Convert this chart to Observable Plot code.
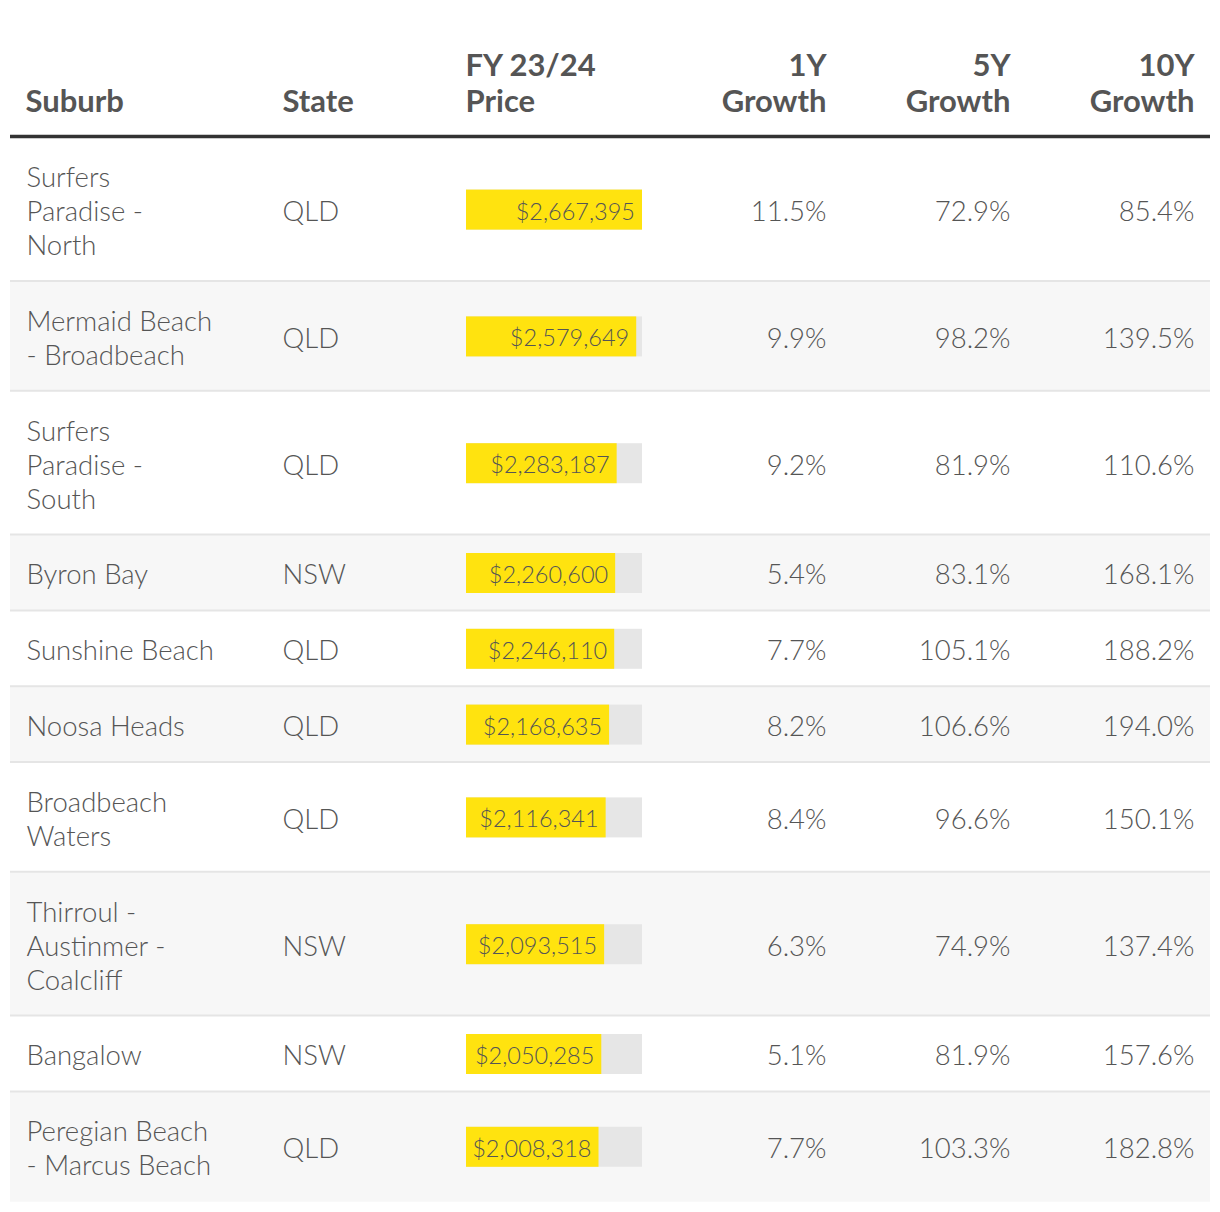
<!DOCTYPE html>
<html><head><meta charset="utf-8">
<script src="https://cdn.jsdelivr.net/npm/d3@7"></script>
<script src="https://cdn.jsdelivr.net/npm/@observablehq/plot@0.6"></script>
<style>body{margin:0;background:#fff;} svg{display:block}</style>
</head><body><div id="chart"></div>
<script>
// ---- data ----
const headers = ["Suburb", "State", "FY 23/24\nPrice", "1Y\nGrowth", "5Y\nGrowth", "10Y\nGrowth"];
const suburbs = [
  "Surfers\nParadise -\nNorth",
  "Mermaid Beach\n- Broadbeach",
  "Surfers\nParadise -\nSouth",
  "Byron Bay",
  "Sunshine Beach",
  "Noosa Heads",
  "Broadbeach\nWaters",
  "Thirroul -\nAustinmer -\nCoalcliff",
  "Bangalow",
  "Peregian Beach\n- Marcus Beach"
];
const states = ["QLD", "QLD", "QLD", "NSW", "QLD", "QLD", "QLD", "NSW", "NSW", "QLD"];
const prices = [2667395, 2579649, 2283187, 2260600, 2246110, 2168635, 2116341, 2093515, 2050285, 2008318];
const growth1Y = [11.5, 9.9, 9.2, 5.4, 7.7, 8.2, 8.4, 6.3, 5.1, 7.7];
const growth5Y = [72.9, 98.2, 81.9, 83.1, 105.1, 106.6, 96.6, 74.9, 81.9, 103.3];
const growth10Y = [85.4, 139.5, 110.6, 168.1, 188.2, 194.0, 150.1, 137.4, 157.6, 182.8];

// ---- layout ----
const W = 1220, H = 1212;
const LINE = 34, PAD = 41.8, TOP = 137.7;
const TEXT = "#555";
let t = TOP;
const rows = suburbs.map((s, i) => {
  const n = s.split("\n").length;
  const h = n * LINE + PAD;
  const r = {i, n, suburb: s, state: states[i], price: prices[i],
    g1: growth1Y[i], g5: growth5Y[i], g10: growth10Y[i],
    top: t, bottom: t + h, mid: t + (h - 2) / 2 + 1};
  t += h;
  return r;
});
const maxPrice = d3.max(prices);
const fmtPrice = d => "$" + d3.format(",")(d);
const fmtPct = d => d.toFixed(1) + "%";

const leftCols = [15, 272, 455];      // offsets from frame left (Suburb, State, Price)
const rightCols = [-384, -200, -16];  // offsets from frame right (1Y, 5Y, 10Y)

const bodyText = {fontSize: 27.5, fontWeight: 300, fill: TEXT, lineHeight: 34 / 27.5, lineAnchor: "middle"};
const headText = {fontSize: 31, fontWeight: 700, fill: TEXT, lineHeight: 35.8 / 31, lineAnchor: "bottom"};
const HEAD_Y = 111.7;

const chart = Plot.plot({
  width: W, height: H,
  marginTop: 0, marginBottom: 0, marginLeft: 10, marginRight: 10,
  x: {domain: [0, maxPrice], range: [466, 642], axis: null},
  y: {type: "identity", axis: null},
  style: {fontFamily: "Lato, sans-serif", background: "#fff", color: TEXT},
  marks: [
    // zebra backgrounds
    Plot.rect(rows.filter(d => d.i % 2 === 1), {y1: "top", y2: "bottom", fill: "#f7f7f7"}),
    // separators
    Plot.ruleY(rows.slice(0, -1), {y: d => d.bottom - 1, stroke: "#e5e5e5", strokeWidth: 2}),
    // header rule
    Plot.ruleY([136], {stroke: "#333", strokeWidth: 3.4}),
    // headers
    ...leftCols.map((dx, k) => Plot.text([headers[k]], {y: () => HEAD_Y, text: d => d, frameAnchor: "left", dx, ...headText})),
    ...rightCols.map((dx, k) => Plot.text([headers[k + 3]], {y: () => HEAD_Y, text: d => d, frameAnchor: "right", dx, ...headText})),
    // body: suburb & state
    Plot.text(rows, {y: "mid", text: "suburb", frameAnchor: "left", dx: leftCols[0] + 1, ...bodyText}),
    Plot.text(rows, {y: "mid", text: "state", frameAnchor: "left", dx: leftCols[1], ...bodyText}),
    // price bars
    Plot.rect(rows, {x1: 0, x2: maxPrice, y1: d => d.mid - 20, y2: d => d.mid + 20, fill: "#e6e6e6"}),
    Plot.rect(rows, {x1: 0, x2: "price", y1: d => d.mid - 20, y2: d => d.mid + 20, fill: "#ffe30f"}),
    Plot.text(rows, {x: "price", y: "mid", text: d => fmtPrice(d.price), dx: -7.5, dy: 2, textAnchor: "end",
      fontSize: 23.5, fontWeight: 300, fill: TEXT, lineAnchor: "middle"}),
    // growth columns
    Plot.text(rows, {y: "mid", text: d => fmtPct(d.g1), frameAnchor: "right", dx: rightCols[0], ...bodyText}),
    Plot.text(rows, {y: "mid", text: d => fmtPct(d.g5), frameAnchor: "right", dx: rightCols[1], ...bodyText}),
    Plot.text(rows, {y: "mid", text: d => fmtPct(d.g10), frameAnchor: "right", dx: rightCols[2], ...bodyText})
  ]
});

document.getElementById("chart").append(chart);
</script></body></html>
